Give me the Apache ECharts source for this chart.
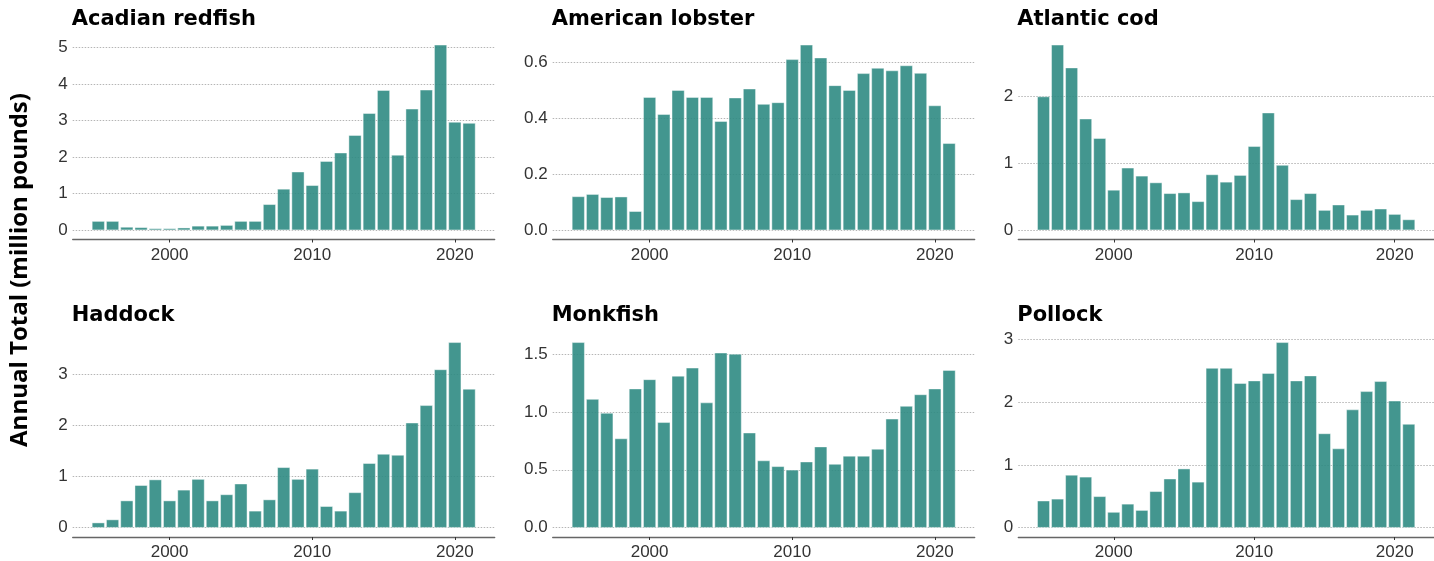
<!DOCTYPE html>
<html>
<head>
<meta charset="utf-8">
<script src="https://cdn.jsdelivr.net/npm/echarts@6/dist/echarts.min.js"></script>
<style>
  html, body { margin: 0; padding: 0; background: #ffffff; }
  #chart { width: 1434px; height: 561px; }
</style>
</head>
<body>
<div id="chart"></div>
<script>
// Landing years shown on every panel
const years = [1995, 1996, 1997, 1998, 1999, 2000, 2001, 2002, 2003, 2004, 2005, 2006, 2007,
               2008, 2009, 2010, 2011, 2012, 2013, 2014, 2015, 2016, 2017, 2018, 2019, 2020, 2021];

// Annual totals, million pounds
const acadianRedfish = [0.25, 0.25, 0.09, 0.08, 0.05, 0.05, 0.07, 0.12, 0.12, 0.14, 0.25, 0.25, 0.71,
                        1.13, 1.60, 1.23, 1.89, 2.12, 2.60, 3.20, 3.83, 2.06, 3.32, 3.84, 5.07, 2.96, 2.93];
const americanLobster = [0.121, 0.129, 0.118, 0.120, 0.068, 0.476, 0.415, 0.501, 0.476, 0.476, 0.390, 0.474, 0.506,
                         0.451, 0.457, 0.611, 0.663, 0.617, 0.518, 0.501, 0.561, 0.580, 0.571, 0.589, 0.562, 0.446, 0.311];
const atlanticCod = [1.99, 2.76, 2.42, 1.66, 1.37, 0.60, 0.93, 0.81, 0.71, 0.55, 0.56, 0.43, 0.83,
                     0.72, 0.82, 1.25, 1.75, 0.97, 0.46, 0.55, 0.30, 0.38, 0.23, 0.30, 0.32, 0.24, 0.16];
const haddock = [0.10, 0.16, 0.53, 0.83, 0.94, 0.53, 0.74, 0.95, 0.53, 0.65, 0.86, 0.33, 0.55,
                 1.18, 0.95, 1.15, 0.42, 0.33, 0.69, 1.26, 1.44, 1.42, 2.05, 2.39, 3.09, 3.62, 2.71];
const monkfish = [1.60, 1.11, 0.99, 0.77, 1.20, 1.28, 0.91, 1.31, 1.38, 1.08, 1.51, 1.50, 0.82,
                  0.58, 0.53, 0.50, 0.57, 0.70, 0.55, 0.62, 0.62, 0.68, 0.94, 1.05, 1.15, 1.20, 1.36];
const pollock = [0.43, 0.46, 0.84, 0.81, 0.50, 0.25, 0.38, 0.28, 0.58, 0.78, 0.94, 0.73, 2.54,
                 2.54, 2.30, 2.34, 2.46, 2.95, 2.34, 2.42, 1.50, 1.26, 1.88, 2.17, 2.33, 2.02, 1.65];

// Species panel names and their y tick values
const speciesNames = ['Acadian redfish', 'American lobster', 'Atlantic cod', 'Haddock', 'Monkfish', 'Pollock'];
const speciesValues = [acadianRedfish, americanLobster, atlanticCod, haddock, monkfish, pollock];
const yTicks = [
  [0, 1, 2, 3, 4, 5],
  [0, 0.2, 0.4, 0.6],
  [0, 1, 2],
  [0, 1, 2, 3],
  [0, 0.5, 1.0, 1.5],
  [0, 1, 2, 3]
];
const yTickDecimals = [0, 1, 0, 0, 1, 0];
const xTicks = [2000, 2010, 2020];
const yAxisTitle = 'Annual Total (million pounds)';

// ---- layout ----
const colLeft = [72.7, 552.7, 1018.3];
const rowTop = [35.5, 333];
const titleTop = [9, 305];
const panelWidth = 422;
const panelHeight = 204;
const barColor = '#2f8b83';
const textColor = '#333333';
const tickFont = 'Liberation Sans, Arial, sans-serif';

// x range padded 5% beyond the outer bar edges
const xLo = years[0] - 0.45;
const xHi = years[years.length - 1] + 0.45;
const xPad = (xHi - xLo) * 0.05;

const grids = [], xAxes = [], yAxes = [], series = [], titles = [];

speciesNames.forEach((name, i) => {
  const row = Math.floor(i / 3), col = i % 3;
  grids.push({
    left: colLeft[col], top: rowTop[row], width: panelWidth, height: panelHeight,
    containLabel: false
  });
  titles.push({
    text: name,
    left: colLeft[col] - 1,
    top: titleTop[row],
    padding: 0,
    textStyle: { fontFamily: 'DejaVu Sans, Liberation Sans, sans-serif', fontWeight: 'bold', fontSize: 21, color: '#000000' }
  });
  xAxes.push({
    gridIndex: i,
    type: 'value',
    min: xLo - xPad,
    max: xHi + xPad,
    axisLine: { show: true, onZero: false, lineStyle: { color: '#666666', width: 1.3 } },
    axisTick: { show: true, customValues: xTicks, length: 3, lineStyle: { color: '#333333' } },
    axisLabel: {
      customValues: xTicks, margin: 7, color: textColor,
      fontFamily: tickFont, fontSize: 17,
      formatter: v => String(v)
    },
    splitLine: { show: false }
  });
  const dec = yTickDecimals[i];
  yAxes.push({
    gridIndex: i,
    type: 'value',
    min: v => -0.05 * v.max,
    max: v => 1.05 * v.max,
    axisLine: { show: false },
    axisTick: { show: false, customValues: yTicks[i] },
    axisLabel: {
      customValues: yTicks[i], margin: 5, color: textColor,
      fontFamily: tickFont, fontSize: 17,
      formatter: v => Number(v).toFixed(dec)
    },
    splitLine: { show: true, lineStyle: { color: '#b5b5b5', type: [1.5, 1.5], width: 1 } }
  });
  series.push({
    type: 'bar',
    name: name,
    xAxisIndex: i,
    yAxisIndex: i,
    barWidth: '90%',
    data: years.map((y, k) => [y, speciesValues[i][k]]),
    itemStyle: { color: barColor, opacity: 0.9, borderColor: 'rgba(255,255,255,0.8)', borderWidth: 0.6 },
    emphasis: { disabled: true },
    silent: true
  });
});

const chart = echarts.init(document.getElementById('chart'), null, { renderer: 'canvas' });
chart.setOption({
  animation: false,
  backgroundColor: '#ffffff',
  title: titles,
  grid: grids,
  xAxis: xAxes,
  yAxis: yAxes,
  series: series,
  graphic: [{
    type: 'text',
    x: 20,
    y: 270,
    rotation: Math.PI / 2,
    style: {
      text: yAxisTitle,
      fill: '#000000',
      font: 'bold 24px Open Sans, Liberation Sans, sans-serif',
      align: 'center',
      verticalAlign: 'middle'
    }
  }]
});
</script>
</body>
</html>
